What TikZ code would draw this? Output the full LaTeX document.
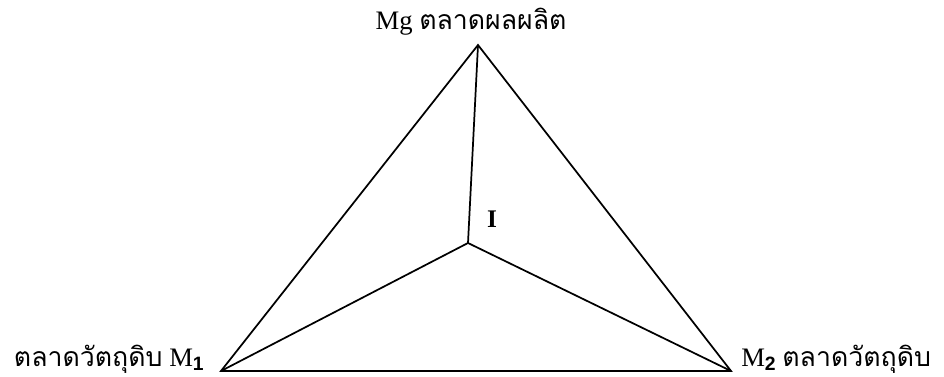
\documentclass[tikz,border=0pt]{standalone}
\usepackage{fontspec}
\setmainfont{Liberation Serif}
\newfontfamily\thaifont[Script=Thai]{Loma}
\newfontfamily\subfont{Liberation Sans}
\newcommand{\subdig}[1]{\raisebox{-3pt}{\subfont\bfseries\fontsize{14.5}{16}\selectfont #1}}
\begin{document}
\begin{tikzpicture}[x=0.75pt,y=-0.75pt,
  edge/.style={line width=1.3pt, line join=miter},
  lbl/.style={inner sep=0pt, font=\fontsize{20}{24}\selectfont}]
\useasboundingbox (0,0) rectangle (944,377);
\coordinate (A) at (478,45);
\coordinate (L) at (221,371);
\coordinate (R) at (731,371);
\coordinate (I) at (468,243);
\draw[edge] (A) -- (L) -- (R) -- cycle;
\draw[edge] (A) -- (I);
\draw[edge] (L) -- (I) -- (R);
\node[lbl, anchor=base] (tA) at (471,30) {Mg {\thaifont ตลาดผลผลิต}};
\node[lbl, anchor=base east] (tL) at (204,366) {{\thaifont ตลาดวัตถุดิบ} M\subdig{1}};
\node[lbl, anchor=base west] (tR) at (741,366) {M\subdig{2} {\thaifont ตลาดวัตถุดิบ}};
\node[lbl, anchor=base, font=\bfseries\fontsize{19}{22}\selectfont] (tI) at (492,228) {I};
\end{tikzpicture}
\end{document}
